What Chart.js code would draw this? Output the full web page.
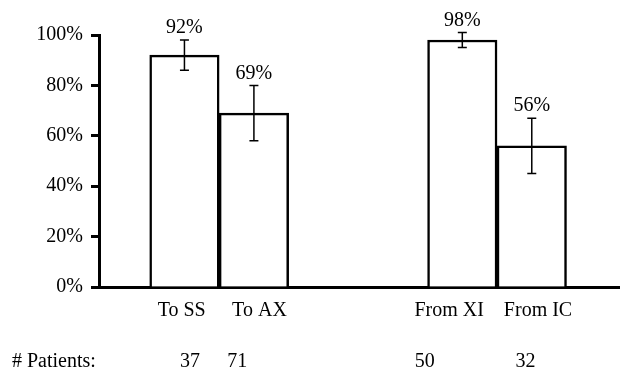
<!DOCTYPE html>
<html>
<head>
<meta charset="utf-8">
<script src="https://cdn.jsdelivr.net/npm/chart.js@4.4.1/dist/chart.umd.min.js"></script>
<style>
  html, body { margin: 0; padding: 0; background: #fff; }
  #wrap { width: 620px; height: 374px; position: relative; }
</style>
</head>
<body>
<div id="wrap"><canvas id="chart"></canvas></div>
<script>
// data
const groupLabels = ['To SS', 'To AX', 'From XI', 'From IC'];
const groupPos = [0, 1, 4, 5];           // slot on the x axis (gap between the two pairs)
const successPct = [92, 69, 98, 56];
const errLow = [86, 58, 95, 45];
const errHigh = [98, 80, 101, 67];
const patients = [37, 71, 50, 32];
const xRange = [-1.23, 6.27];
const yTickStep = 20;

// the text rows under the bars are not centred on the bars in the original
const labelAnchor = [-0.04, 1.08, 3.81, 5.09];
const countAnchor = [0.08, 0.76, 3.46, 4.91];

const FONT = 'Liberation Serif';

// error bars + value labels
const errorBarPlugin = {
    id: 'errorBars',
    afterDatasetsDraw(chart) {
        const { ctx, scales: { x, y, xCount } } = chart;
        ctx.save();
        ctx.strokeStyle = '#000';
        ctx.lineWidth = 1.5;
        groupPos.forEach((p, i) => {
            const px = x.getPixelForValue(p);
            const top = y.getPixelForValue(errHigh[i]);
            const bot = y.getPixelForValue(errLow[i]);
            ctx.beginPath();
            ctx.moveTo(px, top); ctx.lineTo(px, bot);
            ctx.moveTo(px - 4.5, top); ctx.lineTo(px + 4.5, top);
            ctx.moveTo(px - 4.5, bot); ctx.lineTo(px + 4.5, bot);
            ctx.stroke();

            ctx.fillStyle = '#000';
            ctx.font = '20px "' + FONT + '"';
            ctx.textAlign = 'center';
            ctx.textBaseline = 'bottom';
            ctx.fillText(successPct[i] + '%', px, top - 2);
        });
        // row title for the patient counts
        ctx.textAlign = 'left';
        ctx.textBaseline = 'middle';
        ctx.fillText('# Patients:', 12, xCount.top + 31);
        ctx.restore();
    }
};

new Chart(document.getElementById('chart'), {
    type: 'bar',
    data: {
        datasets: [{
            data: groupPos.map((p, i) => ({ x: p, y: successPct[i] })),
            xAxisID: 'x',
            backgroundColor: '#fff',
            borderColor: '#000',
            borderWidth: 2.5,
            categoryPercentage: 1,
            barPercentage: 1
        }]
    },
    options: {
        responsive: true,
        maintainAspectRatio: false,
        animation: false,
        devicePixelRatio: 1,
        layout: { padding: { top: 35, left: 0, right: 0, bottom: 0 } },
        plugins: {
            legend: { display: false },
            tooltip: { enabled: false }
        },
        scales: {
            x: {
                type: 'linear',
                position: 'bottom',
                weight: 0,
                min: xRange[0],
                max: xRange[1],
                offset: false,
                grid: { display: false, drawTicks: false },
                border: { display: true, color: '#000', width: 3 },
                afterBuildTicks: (axis) => {
                    axis.ticks = labelAnchor.map(v => ({ value: v }));
                },
                afterFit: (scale) => { scale.height = 44; },
                ticks: {
                    color: '#000',
                    padding: 12,
                    maxRotation: 0,
                    autoSkip: false,
                    font: { family: FONT, size: 20, lineHeight: 1.2 },
                    callback: (value, index) => groupLabels[index]
                }
            },
            xCount: {
                type: 'linear',
                position: 'bottom',
                weight: 1,
                min: xRange[0],
                max: xRange[1],
                offset: false,
                grid: { display: false, drawTicks: false },
                border: { display: false },
                afterBuildTicks: (axis) => {
                    axis.ticks = countAnchor.map(v => ({ value: v }));
                },
                afterFit: (scale) => { scale.height = 43; },
                ticks: {
                    color: '#000',
                    padding: 19,
                    maxRotation: 0,
                    autoSkip: false,
                    font: { family: FONT, size: 20, lineHeight: 1.2 },
                    callback: (value, index) => String(patients[index])
                }
            },
            y: {
                min: 0,
                max: 100,
                grid: { drawOnChartArea: false, drawTicks: true, tickLength: 8, tickWidth: 3, color: '#000' },
                border: { display: true, color: '#000', width: 3 },
                afterFit: (scale) => { scale.width = 99; },
                ticks: {
                    stepSize: yTickStep,
                    color: '#000',
                    padding: 8,
                    font: { family: FONT, size: 20 },
                    callback: (v) => v + '%'
                }
            }
        }
    },
    plugins: [errorBarPlugin]
});
</script>
</body>
</html>
